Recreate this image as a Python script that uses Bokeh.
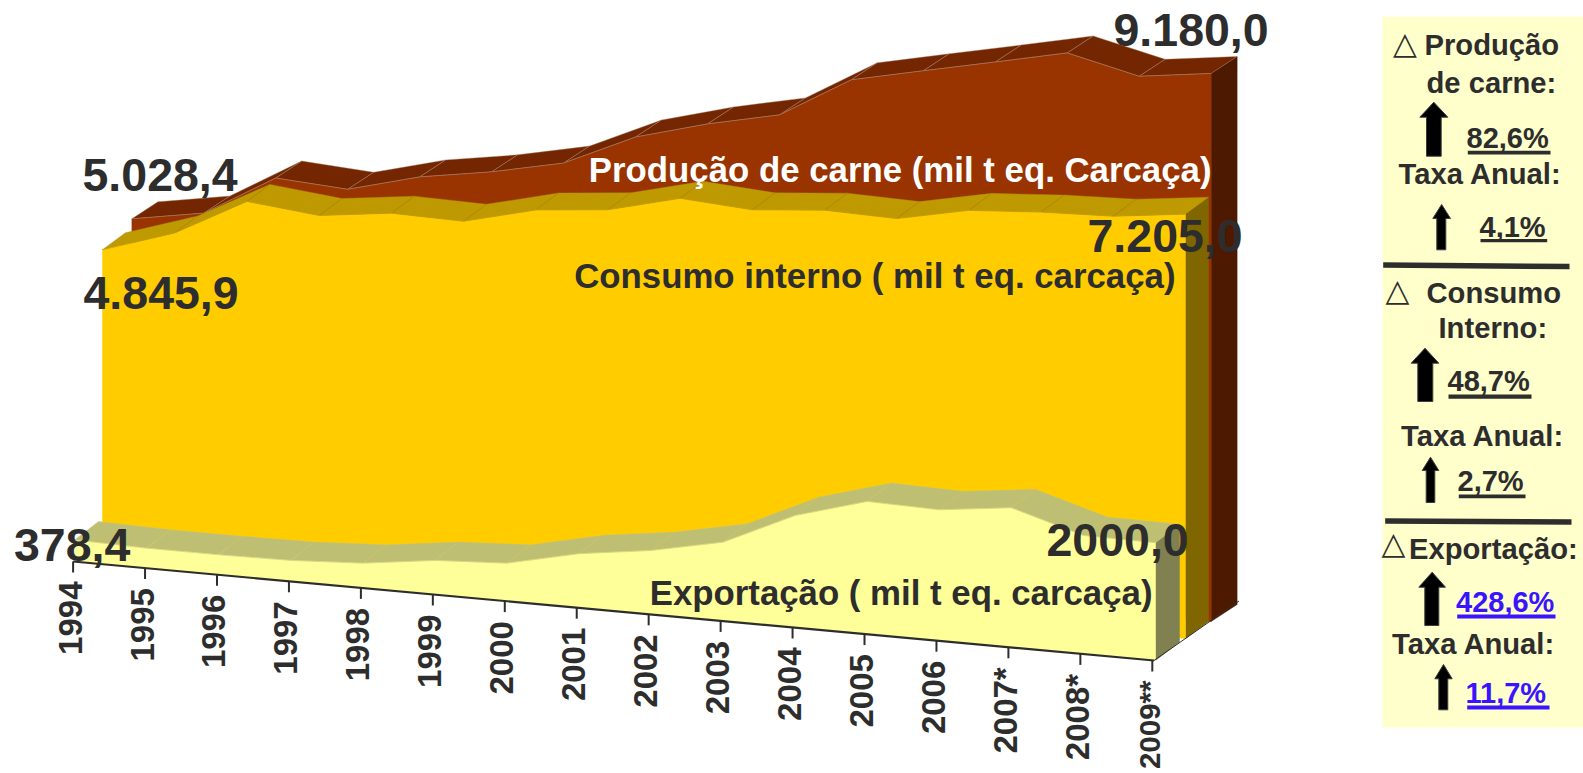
from bokeh.plotting import figure
from bokeh.models import Range1d
from bokeh.embed import file_html
from bokeh.resources import INLINE

# ---------- data ----------
years = ["1994", "1995", "1996", "1997", "1998", "1999", "2000", "2001",
         "2002", "2003", "2004", "2005", "2006", "2007*", "2008*", "2009**"]
producao = [5028.4, 5238, 5940, 5866, 6188, 6387, 6648, 7199,
            7533, 7799, 8501, 8767, 9028, 9295, 9018, 9180.0]
consumo = [4845.9, 5246, 5900, 5777, 5934, 5914, 6222, 6343,
           6654, 6576, 6687, 6661, 6918, 7005, 7053, 7205.0]
exportacao = [378.4, 349, 348, 364, 428, 586, 651, 923,
              1089, 1342, 1907, 2257, 2226, 2372, 2012, 2000.0]

nome_producao = "Produção de carne (mil t eq. Carcaça)"
nome_consumo = "Consumo interno ( mil t eq. carcaça)"
nome_exportacao = "Exportação ( mil t eq. carcaça)"

rotulos_ponta = ["5.028,4", "4.845,9", "378,4", "9.180,0", "7.205,0", "2000,0"]

painel_titulos = ["Produção", "de carne:", "Taxa Anual:", "Consumo", "Interno:",
                  "Taxa Anual:", "Exportação:", "Taxa Anual:"]
painel_pretos = ["82,6%", "4,1%", "48,7%", "2,7%"]
painel_azuis = ["428,6%", "11,7%"]

# ---------- oblique projection of the 3D area chart ----------
W, H = 1583, 773
FONT = "Liberation Sans"
INK = "#2d2d2d"
BLUE = "#3a14ff"

p = figure(width=W, height=H, x_range=Range1d(0, W), y_range=Range1d(H, 0),
           output_backend="svg", toolbar_location=None, min_border=0,
           background_fill_color="white", border_fill_color="white")
p.axis.visible = False
p.grid.visible = False
p.outline_line_color = None

n = len(years)

def layer(values, x0, x1, base0, base1, k, dx, dy, front, top, side, seam):
    step = (x1 - x0) / (n - 1)
    bstep = (base1 - base0) / (n - 1)
    xs = [x0 + step * i for i in range(n)]
    bases = [base0 + bstep * i for i in range(n)]
    tops = [b - v * k for b, v in zip(bases, values)]
    qx = [[xs[i], xs[i + 1], xs[i + 1] + dx, xs[i] + dx] for i in range(n - 1)]
    qy = [[tops[i], tops[i + 1], tops[i + 1] + dy, tops[i] + dy] for i in range(n - 1)]
    # right-hand wall
    p.patch([xs[-1], xs[-1] + dx, xs[-1] + dx, xs[-1]],
            [tops[-1], tops[-1] + dy, bases[-1] + dy, bases[-1]],
            fill_color=side, line_color=side, line_width=0.5)
    # upper surface
    p.patches(qx, qy, fill_color=top, line_color=seam, line_width=0.4)
    # front face
    p.patch(xs + xs[::-1], tops + bases[::-1], fill_color=front, line_color=front, line_width=0.5)
    p.line(xs, tops, line_color=seam, line_width=0.6)
    return xs, tops, bases

layer(producao, 131.4, 1210.6, 518.5, 621.0, 0.0597, 26, -17,
      "#993300", "#732600", "#4d1900", "#a98672")
layer(consumo, 102.0, 1185.0, 534.6, 638.0, 0.0589, 23, -17,
      "#ffcc00", "#bf9900", "#806600", "#a98d12")
layer(exportacao, 74.0, 1155.0, 561.7, 660.0, 0.05885, 24, -18.5,
      "#ffff99", "#bfbf73", "#808050", "#c8c878")

# floor edge and category axis
p.line([1153.5, 1238.5], [660, 600.5], line_color=INK, line_width=1)
xa0, xa1, ya0, ya1 = 72.6, 1153.5, 561.0, 660.0
tx = [xa0 + (xa1 - 1.7 - xa0) / (n - 1) * i for i in range(n)]
ty = [ya0 + (ya1 - ya0) / (n - 1) * i for i in range(n)]
p.line([xa0, xa1], [ya0, ya1], line_color=INK, line_width=2.2)
p.segment(tx, ty, tx, [y + 11 for y in ty], line_color=INK, line_width=2)
# the last label runs to the page's lower edge, so it is set a little smaller
p.text([x - 3 for x in tx[:-1]], [y + 20 for y in ty[:-1]], text=years[:-1], angle=1.5708,
       text_align="right", text_baseline="middle", text_font=dict(value=FONT),
       text_font_style="bold", text_font_size="33px", text_color=INK)
p.text([tx[-1] - 3], [ty[-1] + 20], text=years[-1:], angle=1.5708,
       text_align="right", text_baseline="middle", text_font=dict(value=FONT),
       text_font_style="bold", text_font_size="29.5px", text_color=INK)

# y is the text's baseline; the glyph is anchored on its middle
def label(x, y, s, size, color=INK, align="left", font=FONT, style="bold"):
    p.text([x], [y - 0.358 * size], text=[s], text_align=align, text_baseline="middle",
           text_font=dict(value=font), text_font_style=style,
           text_font_size=f"{size}px", text_color=color)

label(1211, 181, nome_producao, 34.8, "white", "right")
label(1175, 287.5, nome_consumo, 34.8, INK, "right")
label(1152, 604, nome_exportacao, 34.8, INK, "right")

# end values
for (x, y), s in zip([(82, 191), (83, 309), (13.5, 561), (1113, 46), (1087, 252), (1046, 556)],
                     rotulos_ponta):
    label(x, y, s, 46.5)

# side panel
p.quad(left=1382, right=W, top=16, bottom=727, fill_color="#ffffcc", line_color=None)

def arrow(x0, x1, s0, s1, y0, yh, y1):
    xc = (x0 + x1) / 2
    p.patch([xc, x1, s1, s1, s0, s0, x0], [y0, yh, yh, y1, y1, yh, yh],
            fill_color="black", line_color="#3c3c3c", line_width=1)

arrow(1419.3, 1447.3, 1426, 1440.7, 101.7, 116.7, 155.7)
arrow(1432.3, 1450, 1436.3, 1445.3, 204, 218, 249.3)
arrow(1410.7, 1438.3, 1417.3, 1432.3, 347.7, 362.7, 401)
arrow(1421.7, 1438.3, 1425.7, 1434.3, 456.7, 470, 502)
arrow(1418.3, 1445, 1424.3, 1438.3, 571.7, 586.7, 625)
arrow(1434.3, 1451.7, 1438.3, 1447.3, 664, 678.3, 709.3)

for (x, y), s in zip([(1424, 55), (1426, 92.7), (1398, 184.3), (1426, 302.7), (1438, 338.3),
                      (1400.5, 445.7), (1408.5, 559), (1391.5, 654.3)], painel_titulos):
    label(x, y, s, 29.2)

for (x, y), s in zip([(1466, 148.3), (1479, 236.7), (1447, 390.7), (1457, 490.7)], painel_pretos):
    label(x, y, s, 29)
for (x, y), s in zip([(1455.5, 611.7), (1465, 702.7)], painel_azuis):
    label(x, y, s, 29, BLUE)

# underlines
p.quad(left=[1467.3, 1480, 1448, 1458.3], right=[1550, 1546.7, 1531, 1525],
       top=[150.3, 238.5, 394, 494], bottom=[154, 241.7, 398.3, 497.7],
       fill_color=INK, line_color=None)
p.quad(left=[1456.7, 1466.7], right=[1555, 1549], top=[614, 705], bottom=[618, 709],
       fill_color=BLUE, line_color=None)

# rules
p.line([1382.7, 1569], [264.6, 266], line_color=INK, line_width=5.5)
p.line([1384.7, 1571], [520.6, 521.6], line_color=INK, line_width=5.5)

# delta symbols
for x, y in [(1392.5, 54), (1385, 300.5), (1381, 554)]:
    label(x, y, "△", 31, INK, font="DejaVu Sans", style="normal")

open("out.html", "w").write(file_html(p, INLINE))
